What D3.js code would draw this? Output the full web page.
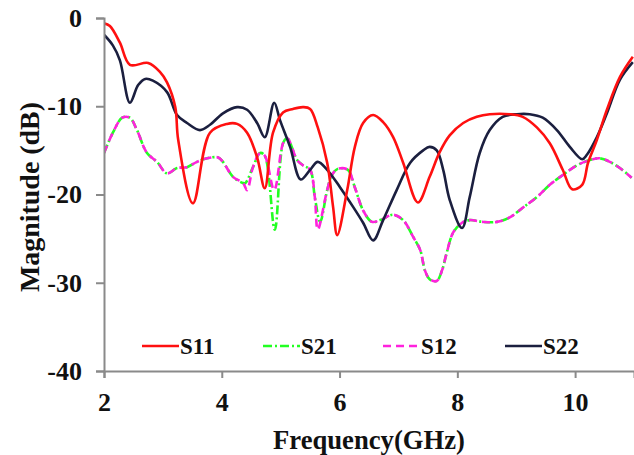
<!DOCTYPE html>
<html>
<head>
<meta charset="utf-8">
<script src="https://cdn.jsdelivr.net/npm/d3@7"></script>
<style>
  body { margin: 0; background: #fff; }
  text { font-family: "Liberation Serif", "Times New Roman", serif; font-weight: bold; }
</style>
</head>
<body>
<div id="chart"></div>
<script>
// S11 (red)
const s11F = [2.0, 2.1, 2.27, 2.44, 2.75, 2.95, 3.07, 3.21, 3.26, 3.51, 3.8, 4.09, 4.26, 4.43, 4.6, 4.73, 4.87, 5.04, 5.21, 5.38, 5.5, 5.63, 5.79, 5.89, 5.96, 6.13, 6.26, 6.4, 6.57, 6.74, 6.91, 7.08, 7.33, 7.53, 7.7, 7.87, 8.1, 8.33, 8.55, 8.89, 9.11, 9.35, 9.57, 9.79, 9.95, 10.12, 10.22, 10.37, 10.54, 10.76, 10.98];
const s11V = [-0.6, -0.9, -2.8, -5.3, -5.1, -6.1, -7.3, -10.1, -13.8, -21.0, -13.0, -12.0, -12.0, -13.0, -15.8, -19.3, -13.0, -10.7, -10.3, -10.1, -10.3, -12.4, -16.4, -21.4, -24.6, -19.5, -14.6, -11.9, -11.0, -11.8, -13.5, -16.4, -20.9, -18.0, -15.2, -13.3, -11.9, -11.2, -10.9, -10.9, -11.2, -12.4, -14.2, -17.2, -19.4, -18.9, -16.4, -13.8, -10.4, -6.7, -4.4];

// S22 (navy)
const s22F = [2.0, 2.15, 2.27, 2.44, 2.58, 2.7, 2.83, 3.07, 3.24, 3.41, 3.63, 3.8, 4.02, 4.26, 4.43, 4.6, 4.73, 4.89, 4.99, 5.16, 5.34, 5.5, 5.63, 5.79, 6.01, 6.23, 6.4, 6.57, 6.74, 6.97, 7.2, 7.42, 7.53, 7.65, 7.76, 7.87, 8.08, 8.21, 8.38, 8.55, 8.77, 9.01, 9.23, 9.45, 9.69, 9.91, 10.12, 10.2, 10.37, 10.54, 10.76, 10.98];
const s22V = [-1.9, -3.1, -4.8, -9.6, -7.6, -6.9, -7.1, -8.4, -11.0, -11.9, -12.7, -12.1, -10.8, -10.1, -10.4, -11.9, -13.5, -9.6, -11.6, -14.6, -18.3, -17.2, -16.3, -17.2, -19.2, -21.4, -23.2, -25.2, -22.9, -19.5, -16.4, -15.0, -14.6, -15.0, -17.2, -20.6, -23.8, -20.3, -15.3, -12.7, -11.2, -10.9, -10.9, -11.3, -12.7, -14.6, -16.0, -15.5, -13.5, -10.8, -7.0, -5.0];

// S21 (green) and S12 (magenta) share most points
const s21F = [2.0, 2.15, 2.31, 2.44, 2.56, 2.73, 2.9, 3.07, 3.24, 3.41, 3.58, 3.75, 3.94, 4.02, 4.19, 4.36, 4.4, 4.53, 4.65, 4.73, 4.9, 5.04, 5.11, 5.28, 5.38, 5.5, 5.58, 5.67, 5.79, 5.87, 5.97, 6.14, 6.26, 6.4, 6.55, 6.69, 6.91, 7.08, 7.25, 7.37, 7.45, 7.53, 7.65, 7.74, 7.82, 7.93, 8.08, 8.21, 8.43, 8.67, 8.89, 9.11, 9.35, 9.57, 9.79, 10.03, 10.25, 10.42, 10.59, 10.76, 10.96];
const s21V = [-15.3, -13.0, -11.3, -11.3, -12.7, -15.3, -16.3, -17.6, -17.0, -16.9, -16.3, -15.9, -15.8, -16.3, -18.0, -18.7, -18.7, -16.9, -15.3, -15.6, -24.0, -14.2, -13.6, -16.1, -16.7, -17.2, -20.3, -23.1, -19.5, -17.8, -17.1, -17.2, -19.2, -21.8, -23.1, -22.9, -22.3, -22.9, -24.8, -26.3, -28.6, -29.6, -29.8, -28.6, -26.6, -24.3, -23.2, -22.9, -23.1, -23.1, -22.6, -21.5, -20.3, -18.9, -17.8, -16.7, -16.1, -15.9, -16.3, -17.0, -18.1];
const s12F = [2.0, 2.15, 2.31, 2.44, 2.56, 2.73, 2.9, 3.07, 3.24, 3.41, 3.58, 3.75, 3.94, 4.02, 4.19, 4.36, 4.43, 4.53, 4.65, 4.73, 4.89, 5.04, 5.11, 5.28, 5.38, 5.5, 5.58, 5.63, 5.79, 5.87, 5.97, 6.14, 6.26, 6.4, 6.55, 6.69, 6.91, 7.08, 7.25, 7.37, 7.45, 7.53, 7.65, 7.74, 7.82, 7.93, 8.08, 8.21, 8.43, 8.67, 8.89, 9.11, 9.35, 9.57, 9.79, 10.03, 10.25, 10.42, 10.59, 10.76, 10.96];
const s12V = [-15.3, -13.0, -11.3, -11.3, -12.7, -15.3, -16.3, -17.6, -17.0, -16.9, -16.3, -15.9, -15.8, -16.3, -18.0, -18.7, -19.5, -16.9, -15.3, -15.6, -19.5, -14.2, -13.6, -16.1, -16.7, -17.2, -20.3, -24.0, -19.5, -17.8, -17.1, -17.2, -19.2, -21.8, -23.1, -22.9, -22.3, -22.9, -24.8, -26.3, -28.6, -29.6, -29.8, -28.6, -26.6, -24.3, -23.2, -22.9, -23.1, -23.1, -22.6, -21.5, -20.3, -18.9, -17.8, -16.7, -16.1, -15.9, -16.3, -17.0, -18.1];

const xTicks = [2, 4, 6, 8, 10];
const yTicks = [0, -10, -20, -30, -40];

const series = [
  {name: "S21", f: s21F, v: s21V, color: "#22ff22", dash: "9,3,2,3"},
  {name: "S12", f: s12F, v: s12V, color: "#ff22dd", dash: "8,5"},
  {name: "S22", f: s22F, v: s22V, color: "#1b1f3f", dash: null},
  {name: "S11", f: s11F, v: s11V, color: "#ff1010", dash: null}
];
const legendOrder = ["S11", "S21", "S12", "S22"];

const W = 634, H = 455;
const margin = {top: 18, right: 0, bottom: 84, left: 104};
const width = W - margin.left - margin.right;
const height = H - margin.top - margin.bottom;

const svg = d3.select("#chart").append("svg")
    .attr("width", W)
    .attr("height", H);

const g = svg.append("g")
    .attr("transform", `translate(${margin.left}, ${margin.top})`);

const x = d3.scaleLinear().domain([2, 11]).range([0, width]);
const y = d3.scaleLinear().domain([-40, 0]).range([height, 0]);

g.append("defs").append("clipPath").attr("id", "clip")
  .append("rect").attr("x", 0).attr("y", -10).attr("width", width).attr("height", height + 10);

const line = d3.line()
    .x(d => x(d[0]))
    .y(d => y(d[1]))
    .curve(d3.curveCatmullRom.alpha(0.5));

series.forEach(s => {
  g.append("path")
    .datum(s.f.map((f, i) => [f, s.v[i]]))
    .attr("clip-path", "url(#clip)")
    .attr("fill", "none")
    .attr("stroke", s.color)
    .attr("stroke-width", 2.6)
    .attr("stroke-dasharray", s.dash)
    .attr("stroke-linejoin", "round")
    .attr("d", line);
});

// axes
const yAxis = g.append("g")
    .call(d3.axisLeft(y).tickValues(yTicks).tickSize(8).tickPadding(14).tickFormat(d3.format("d")));
const xAxis = g.append("g")
    .attr("transform", `translate(0, ${height})`)
    .call(d3.axisBottom(x).tickValues(xTicks).tickSize(7).tickPadding(15));

[xAxis, yAxis].forEach(a => {
  a.select(".domain").attr("stroke", "#8a8a8a").attr("stroke-width", 2);
  a.selectAll(".tick line").attr("stroke", "#8a8a8a").attr("stroke-width", 2);
  a.selectAll(".tick text")
    .attr("fill", "#111")
    .style("font-size", "26px")
    .style("font-family", "'Liberation Serif', serif")
    .style("font-weight", "bold");
});
yAxis.selectAll(".tick text").text(d => d === 0 ? "0" : "-" + Math.abs(d));

// axis titles
svg.append("text")
    .attr("x", 369)
    .attr("y", 449)
    .attr("text-anchor", "middle")
    .style("font-size", "28px")
    .attr("textLength", 192)
    .attr("lengthAdjust", "spacingAndGlyphs")
    .attr("fill", "#111")
    .text("Frequency(GHz)");

svg.append("text")
    .attr("transform", "translate(39, 197) rotate(-90)")
    .attr("text-anchor", "middle")
    .style("font-size", "28px")
    .attr("textLength", 190)
    .attr("lengthAdjust", "spacingAndGlyphs")
    .attr("fill", "#111")
    .text("Magnitude (dB)");

// legend
const legendX = [142, 263, 383, 505];
const legend = svg.append("g");
legendOrder.forEach((n, i) => {
  const s = series.find(d => d.name === n);
  legend.append("line")
    .attr("x1", legendX[i]).attr("x2", legendX[i] + 37)
    .attr("y1", 346).attr("y2", 346)
    .attr("stroke", s.color)
    .attr("stroke-width", 2.6)
    .attr("stroke-dasharray", s.dash);
  legend.append("text")
    .attr("x", legendX[i] + 38)
    .attr("y", 354)
    .style("font-size", "23px")
    .attr("fill", "#111")
    .text(n);
});
</script>
</body>
</html>
